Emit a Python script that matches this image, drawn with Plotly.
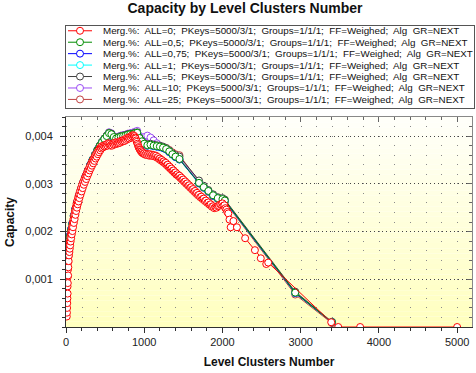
import plotly.graph_objects as go

# ---------------- data ----------------
NAMES = [
    "Merg.%:  ALL=0;  PKeys=5000/3/1;  Groups=1/1/1;  FF=Weighed;  Alg  GR=NEXT",
    "Merg.%:  ALL=0,5;  PKeys=5000/3/1;  Groups=1/1/1;  FF=Weighed;  Alg  GR=NEXT",
    "Merg.%:  ALL=0,75;  PKeys=5000/3/1;  Groups=1/1/1;  FF=Weighed;  Alg  GR=NEXT",
    "Merg.%:  ALL=1;  PKeys=5000/3/1;  Groups=1/1/1;  FF=Weighed;  Alg  GR=NEXT",
    "Merg.%:  ALL=5;  PKeys=5000/3/1;  Groups=1/1/1;  FF=Weighed;  Alg  GR=NEXT",
    "Merg.%:  ALL=10;  PKeys=5000/3/1;  Groups=1/1/1;  FF=Weighed;  Alg  GR=NEXT",
    "Merg.%:  ALL=25;  PKeys=5000/3/1;  Groups=1/1/1;  FF=Weighed;  Alg  GR=NEXT",
]
COLORS = ["#FF0000", "#008C00", "#0000FF", "#00FFFF", "#404040", "#9B4BF5", "#C04040"]

X_TICKS = [0, 1000, 2000, 3000, 4000, 5000]
Y_TICKS = [0.001, 0.002, 0.003, 0.004]
Y_TICK_TEXT = ["0,001", "0,002", "0,003", "0,004"]

X_ALL0 = [10, 12, 14, 16, 18, 20, 21, 22, 23, 25, 27, 28, 30, 32, 34, 36, 38, 40, 43, 45,
          48, 50, 53, 56, 59, 62, 66, 70, 74, 78, 82, 86, 90, 95, 100, 105, 110, 115, 120,
          125, 130, 135, 140, 145, 150, 155, 160, 165, 171, 178, 185, 192, 199, 206, 213,
          220, 228, 235, 243, 250, 258, 265, 272, 280, 288, 295, 302, 310, 318, 325, 332,
          340, 348, 355, 362, 370, 378, 385, 392, 400, 408, 415, 422, 430, 438, 445, 452,
          460, 470, 480, 490, 500, 510, 520, 530, 540, 550, 560, 570, 580, 590, 600, 610,
          620, 630, 640, 650, 660, 670, 680, 690, 700, 710, 720, 730, 740, 750, 760, 770,
          780, 790, 800, 810, 820, 830, 840, 850, 860, 868, 875, 883, 890, 898, 905, 913,
          920, 928, 935, 943, 950, 958, 965, 972, 980, 990, 1000, 1012, 1025, 1037, 1050,
          1062, 1075, 1087, 1100, 1112, 1125, 1137, 1150, 1162, 1175, 1187, 1200, 1212, 1225,
          1237, 1250, 1262, 1275, 1287, 1300, 1312, 1325, 1337, 1350, 1362, 1375, 1387, 1400,
          1412, 1425, 1437, 1450, 1462, 1475, 1487, 1500, 1512, 1525, 1537, 1550, 1562, 1575,
          1587, 1600, 1612, 1625, 1637, 1650, 1662, 1675, 1687, 1700, 1715, 1730, 1745, 1760,
          1775, 1790, 1805, 1820, 1835, 1850, 1865, 1880, 1895, 1910, 1925, 1940, 1955, 1970,
          1985, 2000, 2012, 2025, 2037, 2050, 2062, 2075, 2090, 2105, 2140, 2185, 2290, 2415,
          2490, 2560, 2585, 3390, 3480, 3760, 5000]
Y_ALL0 = [0.00022, 0.00030, 0.00040, 0.00050, 0.00060, 0.00085, 0.00070, 0.00105, 0.00092,
          0.00120, 0.00108, 0.00135, 0.00125, 0.00148, 0.00138, 0.00158, 0.00150, 0.00165,
          0.00157, 0.00172, 0.00164, 0.00180, 0.00171, 0.00188, 0.00179, 0.00195, 0.00186,
          0.00202, 0.00194, 0.00210, 0.00201, 0.00218, 0.00209, 0.00226, 0.00218, 0.00235,
          0.00226, 0.00243, 0.00235, 0.00251, 0.00243, 0.00258, 0.00250, 0.00265, 0.00257,
          0.00271, 0.00263, 0.00277, 0.00270, 0.00284, 0.00277, 0.00291, 0.00284, 0.00298,
          0.00291, 0.00304, 0.00298, 0.00310, 0.00304, 0.00316, 0.00310, 0.00322, 0.00316,
          0.00328, 0.00322, 0.00333, 0.00328, 0.00338, 0.00333, 0.00343, 0.00338, 0.00348,
          0.00343, 0.00353, 0.00348, 0.00358, 0.00353, 0.00362, 0.00357, 0.00366, 0.00362,
          0.00370, 0.00366, 0.00374, 0.00370, 0.00377, 0.00374, 0.00379, 0.00376, 0.00380,
          0.00378, 0.00381, 0.00379, 0.00383, 0.00380, 0.00385, 0.00382, 0.00384, 0.00380,
          0.00382, 0.00380, 0.00384, 0.00382, 0.00386, 0.00383, 0.00387, 0.00384, 0.00386,
          0.00385, 0.00388, 0.00386, 0.00390, 0.00388, 0.00391, 0.00389, 0.00392, 0.00390,
          0.00394, 0.00392, 0.00396, 0.00394, 0.00397, 0.00395, 0.00399, 0.00397, 0.00401,
          0.00399, 0.00402, 0.00400, 0.00400, 0.00397, 0.00395, 0.00391, 0.00388, 0.00384,
          0.00381, 0.00377, 0.00375, 0.00372, 0.00371, 0.00368, 0.00368, 0.00365, 0.00366,
          0.00363, 0.00364, 0.00361, 0.00363, 0.00360, 0.00362, 0.00359, 0.00362, 0.00359,
          0.00361, 0.00358, 0.00360, 0.00357, 0.00359, 0.00355, 0.00356, 0.00352, 0.00353,
          0.00349, 0.00350, 0.00346, 0.00347, 0.00343, 0.00344, 0.00339, 0.00340, 0.00335,
          0.00336, 0.00331, 0.00332, 0.00327, 0.00328, 0.00323, 0.00324, 0.00319, 0.00320,
          0.00316, 0.00317, 0.00312, 0.00313, 0.00308, 0.00309, 0.00304, 0.00305, 0.00300,
          0.00301, 0.00296, 0.00297, 0.00292, 0.00293, 0.00288, 0.00289, 0.00284, 0.00285,
          0.00280, 0.00281, 0.00276, 0.00277, 0.00272, 0.00273, 0.00268, 0.00269, 0.00264,
          0.00265, 0.00260, 0.00261, 0.00256, 0.00257, 0.00252, 0.00253, 0.00249, 0.00251,
          0.00250, 0.00253, 0.00254, 0.00257, 0.00256, 0.00259, 0.00254, 0.00255, 0.00249,
          0.00246, 0.00241, 0.00238, 0.00225, 0.00209, 0.00222, 0.00209, 0.00186, 0.00161,
          0.00144, 0.00132, 0.00135, 0.00010, 0.0, 0.0, 0.0]

X_MERGED = [0, 10, 20, 30, 40, 50, 65, 80, 100, 120, 140, 165, 190, 220, 250, 280, 310, 340,
            370, 400, 430, 460, 490, 520, 550, 580, 610, 640, 670, 700, 730, 760, 790, 820,
            850, 880, 910, 940, 970, 1000, 1040, 1080, 1120, 1160, 1200, 1240, 1280, 1320,
            1360, 1400, 1450, 1700, 1760, 1820, 1880, 1940, 2000, 2030, 2930, 3400]
Y_ALL05 = [0.00085, 0.00120, 0.00150, 0.00168, 0.00180, 0.00190, 0.00203, 0.00215, 0.00232,
           0.00246, 0.00259, 0.00274, 0.00287, 0.00301, 0.00314, 0.00327, 0.00339, 0.00350,
           0.00360, 0.00370, 0.00379, 0.00387, 0.00394, 0.00400, 0.00406, 0.00404, 0.00398,
           0.00395, 0.00397, 0.00399, 0.00400, 0.00401, 0.00403, 0.00404, 0.00404, 0.00406,
           0.00407, 0.00396, 0.00389, 0.00384, 0.00381, 0.00382, 0.00380, 0.00379, 0.00378,
           0.00376, 0.00373, 0.00368, 0.00362, 0.00357, 0.00352, 0.00302, 0.00293, 0.00285,
           0.00276, 0.00270, 0.00268, 0.00265, 0.00072, 0.00010]
Y_ALL075 = [0.00080, 0.00118, 0.00152, 0.00170, 0.00182, 0.00192, 0.00205, 0.00217, 0.00234,
            0.00248, 0.00261, 0.00276, 0.00289, 0.00303, 0.00316, 0.00328, 0.00340, 0.00350,
            0.00360, 0.00369, 0.00378, 0.00386, 0.00393, 0.00399, 0.00404, 0.00402, 0.00397,
            0.00394, 0.00396, 0.00398, 0.00399, 0.00400, 0.00402, 0.00403, 0.00403, 0.00405,
            0.00406, 0.00395, 0.00388, 0.00383, 0.00380, 0.00381, 0.00379, 0.00378, 0.00377,
            0.00375, 0.00372, 0.00367, 0.00361, 0.00356, 0.00351, 0.00301, 0.00292, 0.00284,
            0.00275, 0.00269, 0.00267, 0.00264, 0.00071, 0.00010]
Y_ALL1 = [0.00082, 0.00119, 0.00151, 0.00169, 0.00181, 0.00191, 0.00204, 0.00216, 0.00233,
          0.00247, 0.00260, 0.00275, 0.00288, 0.00302, 0.00315, 0.00327, 0.00339, 0.00350,
          0.00360, 0.00369, 0.00378, 0.00386, 0.00393, 0.00399, 0.00405, 0.00403, 0.00397,
          0.00394, 0.00396, 0.00398, 0.00399, 0.00400, 0.00402, 0.00403, 0.00403, 0.00405,
          0.00406, 0.00395, 0.00388, 0.00383, 0.00380, 0.00381, 0.00379, 0.00378, 0.00377,
          0.00375, 0.00372, 0.00367, 0.00361, 0.00356, 0.00351, 0.00301, 0.00292, 0.00284,
          0.00275, 0.00269, 0.00267, 0.00264, 0.00071, 0.00010]
Y_ALL5 = [0.00084, 0.00121, 0.00152, 0.00170, 0.00182, 0.00192, 0.00205, 0.00217, 0.00234,
          0.00248, 0.00261, 0.00276, 0.00289, 0.00303, 0.00316, 0.00328, 0.00340, 0.00351,
          0.00361, 0.00371, 0.00380, 0.00388, 0.00395, 0.00401, 0.00407, 0.00405, 0.00399,
          0.00396, 0.00398, 0.00400, 0.00401, 0.00402, 0.00404, 0.00405, 0.00405, 0.00407,
          0.00408, 0.00397, 0.00390, 0.00385, 0.00383, 0.00384, 0.00382, 0.00381, 0.00380,
          0.00378, 0.00375, 0.00370, 0.00364, 0.00360, 0.00357, 0.00307, 0.00296, 0.00287,
          0.00278, 0.00272, 0.00270, 0.00267, 0.00074, 0.00011]
Y_ALL10 = [0.00083, 0.00120, 0.00151, 0.00169, 0.00181, 0.00191, 0.00204, 0.00216, 0.00233,
           0.00247, 0.00260, 0.00275, 0.00288, 0.00302, 0.00315, 0.00328, 0.00340, 0.00351,
           0.00361, 0.00371, 0.00380, 0.00388, 0.00395, 0.00401, 0.00408, 0.00406, 0.00400,
           0.00397, 0.00399, 0.00401, 0.00402, 0.00403, 0.00405, 0.00406, 0.00407, 0.00409,
           0.00411, 0.00400, 0.00396, 0.00398, 0.00401, 0.00397, 0.00391, 0.00385, 0.00380,
           0.00376, 0.00372, 0.00366, 0.00362, 0.00358, 0.00354, 0.00305, 0.00295, 0.00286,
           0.00277, 0.00271, 0.00269, 0.00266, 0.00073, 0.00010]
Y_ALL25 = [0.00083, 0.00119, 0.00150, 0.00168, 0.00180, 0.00190, 0.00203, 0.00215, 0.00232,
           0.00246, 0.00259, 0.00274, 0.00287, 0.00301, 0.00314, 0.00327, 0.00339, 0.00350,
           0.00360, 0.00370, 0.00379, 0.00387, 0.00394, 0.00400, 0.00405, 0.00403, 0.00397,
           0.00394, 0.00396, 0.00398, 0.00399, 0.00400, 0.00402, 0.00403, 0.00403, 0.00405,
           0.00406, 0.00395, 0.00388, 0.00383, 0.00380, 0.00381, 0.00380, 0.00379, 0.00378,
           0.00377, 0.00375, 0.00371, 0.00366, 0.00362, 0.00360, 0.00303, 0.00292, 0.00283,
           0.00274, 0.00268, 0.00265, 0.00262, 0.00068, 0.00008]

SERIES_X = [X_ALL0, X_MERGED, X_MERGED, X_MERGED, X_MERGED, X_MERGED, X_MERGED]
SERIES_Y = [Y_ALL0, Y_ALL05, Y_ALL075, Y_ALL1, Y_ALL5, Y_ALL10, Y_ALL25]

# ---------------- layout geometry ----------------
W, H = 476, 373
PL, PR, PT, PB = 66, 472, 117, 327          # plot area (px)
LL, LR, LT, LB = 66, 474, 26, 108           # legend box (px)
FONT = "Liberation Sans, Arial, sans-serif"
AXC = "#303030"

fig = go.Figure()

# main series (first legend entry drawn last, on top)
for i in reversed(range(len(NAMES))):
    fig.add_trace(go.Scatter(
        x=SERIES_X[i], y=SERIES_Y[i], name=NAMES[i], mode="lines+markers",
        line=dict(color=COLORS[i], width=1),
        marker=dict(symbol="circle", size=7, color="white",
                    line=dict(color=COLORS[i], width=1)),
        showlegend=False, xaxis="x", yaxis="y", cliponaxis=True))

# dummy trace for the mirrored (top/right) axes
fig.add_trace(go.Scatter(x=[], y=[], xaxis="x3", yaxis="y3", showlegend=False))

# custom compact legend drawn in its own small subplot
for i, name in enumerate(NAMES):
    fig.add_trace(go.Scatter(
        x=[68, 80, 92], y=[i, i, i], xaxis="x2", yaxis="y2", mode="lines+markers",
        line=dict(color=COLORS[i], width=1),
        marker=dict(symbol="circle", size=7, color="white", opacity=[0, 1, 0],
                    line=dict(color=COLORS[i], width=1)),
        showlegend=False, hoverinfo="skip"))
    fig.add_annotation(x=101, y=i, xref="x2", yref="y2", text=name.replace("  ", "\u00a0 "),
                       xanchor="left", yanchor="middle", showarrow=False,
                       font=dict(family=FONT, size=9.8, color="#111"))

# gradient background of plot area
N = 40
top = (255, 255, 250)
bot = (255, 255, 190)
for k in range(N):
    t = (k + 0.5) / N
    c = tuple(round(bot[j] + (top[j] - bot[j]) * t) for j in range(3))
    fig.add_shape(type="rect", xref="x domain", yref="y domain", x0=0, x1=1,
                  y0=k / N, y1=(k + 1) / N, layer="below", line=dict(width=0),
                  fillcolor="rgb(%d,%d,%d)" % c)

xdom = [PL / W, PR / W]
ydom = [1 - PB / H, 1 - PT / H]
XR = [0, 5190]
YR = [0, 0.0044]

fig.update_layout(
    width=W, height=H, margin=dict(l=0, r=0, t=0, b=0, pad=0, autoexpand=False),
    paper_bgcolor="white", plot_bgcolor="white",
    font=dict(family=FONT, size=11, color="#222"),
    title=dict(text="<b>Capacity by Level Clusters Number</b>", x=245 / W, xanchor="center",
               y=1 - 8 / H, yanchor="middle", xref="paper", yref="paper",
               font=dict(family=FONT, size=14, color="#111")),
    xaxis=dict(domain=xdom, range=XR, tickvals=X_TICKS, ticks="outside", ticklen=5,
               tickcolor=AXC, showline=True, linecolor=AXC, linewidth=1, showgrid=False,
               zeroline=False, tickfont=dict(size=11, color="#222"), automargin=False,
               minor=dict(dtick=200, tick0=0, ticks="outside", ticklen=3, tickcolor=AXC,
                          showgrid=False),
               title=dict(text="<b>Level Clusters Number</b>", standoff=10,
                          font=dict(size=12, color="#111")),
               fixedrange=True, anchor="y"),
    yaxis=dict(domain=ydom, range=YR, tickvals=Y_TICKS, ticktext=Y_TICK_TEXT,
               ticks="outside", ticklen=5, tickcolor=AXC, showline=True, linecolor=AXC,
               linewidth=1, showgrid=True, gridcolor="#444", griddash="1px,3px",
               gridwidth=1, zeroline=False, tickfont=dict(size=11, color="#222"),
               automargin=False, ticklabelstandoff=5,
               minor=dict(dtick=0.0002, tick0=0, ticks="outside", ticklen=3, tickcolor=AXC,
                          showgrid=True, gridcolor="#8a8a8a", griddash="1px,14.64px",
                          gridwidth=1),
               title=dict(text="<b>Capacity</b>", standoff=8,
                          font=dict(size=12, color="#111")),
               fixedrange=True, anchor="x"),
    xaxis3=dict(overlaying="x", anchor="y3", side="top", range=XR, tickvals=X_TICKS,
                ticks="inside", ticklen=5, tickcolor="#666", showticklabels=False,
                showline=True, linecolor="#888", showgrid=False, zeroline=False,
                automargin=False,
                minor=dict(dtick=200, tick0=0, ticks="inside", ticklen=3, tickcolor="#666"),
                fixedrange=True),
    yaxis3=dict(overlaying="y", anchor="x3", side="right", range=YR, tickvals=Y_TICKS,
                ticks="inside", ticklen=5, tickcolor="#666", showticklabels=False,
                showline=True, linecolor="#888", showgrid=False, zeroline=False,
                automargin=False,
                minor=dict(dtick=0.0002, tick0=0, ticks="inside", ticklen=3, tickcolor="#666"),
                fixedrange=True),
    xaxis2=dict(domain=[LL / W, LR / W], range=[LL, LR], anchor="y2", showline=True,
                mirror=True, linecolor="#555", linewidth=1, showticklabels=False, ticks="",
                showgrid=False, zeroline=False, fixedrange=True, automargin=False),
    yaxis2=dict(domain=[1 - LB / H, 1 - LT / H], range=[6.75, -5 / 12], anchor="x2",
                showline=True, mirror=True, linecolor="#555", linewidth=1,
                showticklabels=False, ticks="", showgrid=False, zeroline=False,
                fixedrange=True, automargin=False),
    showlegend=False, hovermode="closest",
)

fig.write_html("out.html", config={"displayModeBar": False},
               post_script="document.body.style.margin='0';document.body.style.overflow='hidden';")
